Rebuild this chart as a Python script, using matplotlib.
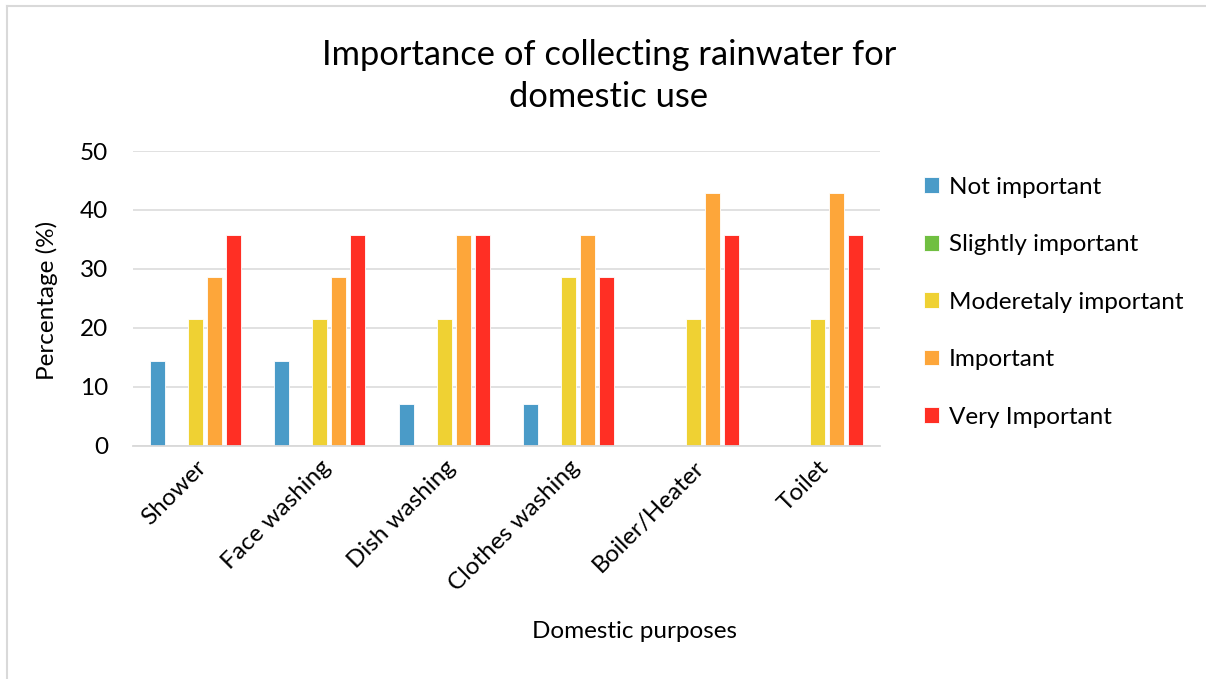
import matplotlib
matplotlib.use("Agg")
import matplotlib.pyplot as plt
from matplotlib.lines import Line2D
import numpy as np

plt.rcParams['font.family'] = ['Lato', 'DejaVu Sans']

categories = ["Shower", "Face washing", "Dish washing", "Clothes washing", "Boiler/Heater", "Toilet"]
series_names = ["Not important", "Slightly important", "Moderetaly important", "Important", "Very Important"]
not_important = [14.29, 14.29, 7.14, 7.14, 0, 0]
slightly_important = [0, 0, 0, 0, 0, 0]
moderately_important = [21.43, 21.43, 21.43, 28.57, 21.43, 21.43]
important = [28.57, 28.57, 35.71, 35.71, 42.86, 42.86]
very_important = [35.71, 35.71, 35.71, 28.57, 35.71, 35.71]
colors = ["#4A9BC8", "#70BF41", "#EFD133", "#FDA63A", "#FF2F24"]

W, H = 1206, 679
fig = plt.figure(figsize=(W / 100, H / 100), dpi=100)
ax = fig.add_axes([133.3 / W, 1 - 445.7 / H, (880 - 133.3) / W, (445.7 - 151) / H])

x = np.arange(len(categories))
slot = 0.1527
bar_w = 0.1206
all_series = [not_important, slightly_important, moderately_important, important, very_important]
for i, (vals, name, c) in enumerate(zip(all_series, series_names, colors)):
    ax.bar(x + (i - 2) * slot, vals, width=bar_w, color=c, label=name,
           edgecolor="white", linewidth=0.6, zorder=3)

ax.set_xlim(-0.5, len(categories) - 0.5)
ax.set_ylim(0, 50)
ax.set_yticks([0, 10, 20, 30, 40, 50])
ax.yaxis.grid(True, color="#D9D9D9", linewidth=1.1, zorder=0)
ax.set_axisbelow(True)
for s in ["left", "right", "top"]:
    ax.spines[s].set_visible(False)
ax.spines["bottom"].set_color("#D9D9D9")
ax.spines["bottom"].set_linewidth(1.3)
ax.spines["bottom"].set_zorder(4)
ax.tick_params(axis="y", length=0, pad=18, labelsize=17.5, labelcolor="#000000")
ax.tick_params(axis="x", length=0, pad=8, labelsize=17.5, labelcolor="#000000")
ax.set_xticks(x)
ax.set_xticklabels(categories, rotation=45, ha="right", rotation_mode="anchor")

fig.text(47 / W, 1 - 300 / H, "Percentage (%)", rotation=90, ha="center", va="center", fontsize=17.5)
fig.text(634 / W, 1 - 632 / H, "Domestic purposes", ha="center", va="center", fontsize=17.5)
fig.text(609 / W, 1 - 76 / H, "Importance of collecting rainwater for\ndomestic use",
         ha="center", va="center", fontsize=24.8, linespacing=1.4)

leg = fig.legend(loc="upper left", bbox_to_anchor=(914 / W, 1 - 167 / H), frameon=False,
                 fontsize=17.5, handlelength=0.62, handleheight=0.62, handletextpad=0.4,
                 labelspacing=1.5, borderaxespad=0)

# chart frame (left and top edges)
fig.add_artist(Line2D([7 / W, 7 / W], [0, 1 - 6 / H], color="#D9D9D9", linewidth=1.5,
                      transform=fig.transFigure))
fig.add_artist(Line2D([7 / W, 1], [1 - 6 / H, 1 - 6 / H], color="#D9D9D9", linewidth=1.5,
                      transform=fig.transFigure))

fig.savefig("out.png", dpi=100, facecolor="white")
